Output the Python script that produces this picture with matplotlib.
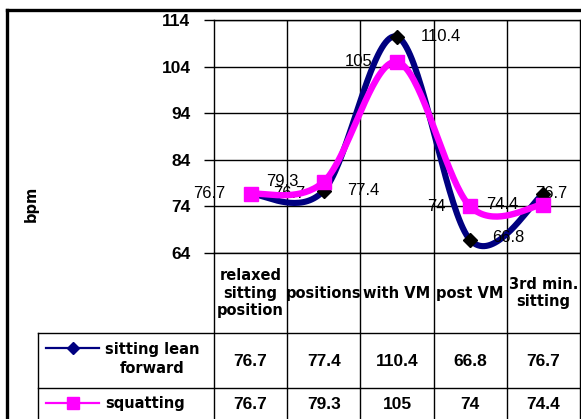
import numpy as np
import matplotlib
matplotlib.use("Agg")
import matplotlib.pyplot as plt

# data
categories = ["relaxed\nsitting\nposition", "positions", "with VM", "post VM", "3rd min.\nsitting"]
series_names = ["sitting lean\nforward", "squatting"]
lean_forward = [76.7, 77.4, 110.4, 66.8, 76.7]
squatting = [76.7, 79.3, 105, 74, 74.4]
yticks = [64, 74, 84, 94, 104, 114]

W, H = 581, 419
NAVY = "#000080"
MAGENTA = "#FF00FF"
LAB_FONT = "Liberation Sans"
CAT_FONT = "DejaVu Sans"


def smooth(y, n=40):
    # Excel-like smoothed line: Catmull-Rom as cubic Bezier segments
    x = np.arange(len(y)) + 0.5
    p = np.column_stack([x, np.asarray(y, float)])
    ext = np.vstack([p[0], p, p[-1]])
    out = []
    t = np.linspace(0, 1, n)[:, None]
    for i in range(len(p) - 1):
        p0, p1, p2, p3 = ext[i], ext[i + 1], ext[i + 2], ext[i + 3]
        c1 = p1 + (p2 - p0) / 6
        c2 = p2 - (p3 - p1) / 6
        seg = ((1 - t) ** 3) * p1 + 3 * ((1 - t) ** 2) * t * c1 + 3 * (1 - t) * t ** 2 * c2 + t ** 3 * p2
        out.append(seg if i == 0 else seg[1:])
    out = np.vstack(out)
    return out[:, 0], out[:, 1]


fig = plt.figure(figsize=(W / 100, H / 100), dpi=100)

# overlay in pixel coordinates for frame and data table
ov = fig.add_axes([0, 0, 1, 1])
ov.set_xlim(0, W)
ov.set_ylim(H, 0)
ov.axis("off")

left, right, top, bottom = 214, 580, 20, 253
ax = fig.add_axes([left / W, 1 - bottom / H, (right - left) / W, (bottom - top) / H])
ax.patch.set_alpha(0)
ncat = len(categories)
ax.set_xlim(0, ncat)
ax.set_ylim(yticks[0], yticks[-1])
ax.set_yticks(yticks)
ax.set_xticks([])
for yv in yticks:
    ax.axhline(yv, color="black", lw=1, zorder=1)
for i in range(1, ncat):
    ax.axvline(i, color="black", lw=1, zorder=1)
for s in ax.spines.values():
    s.set_color("black")
    s.set_linewidth(1)
ax.tick_params(axis="y", direction="out", length=7, width=1, pad=10, labelsize=12.5)
for lab in ax.get_yticklabels():
    lab.set_fontweight("bold")
    lab.set_fontfamily(LAB_FONT)

xc = np.arange(ncat) + 0.5
sx, sy = smooth(lean_forward)
ax.plot(sx, sy, color=NAVY, lw=4.4, zorder=3, solid_capstyle="round", clip_on=False)
ax.plot(xc, lean_forward, ls="none", marker="D", ms=7.5, color="black", zorder=4, clip_on=False)
sx, sy = smooth(squatting)
ax.plot(sx, sy, color=MAGENTA, lw=4.6, zorder=5, solid_capstyle="round", clip_on=False)
ax.plot(xc, squatting, ls="none", marker="s", ms=9.5, color=MAGENTA, zorder=6, clip_on=False)

# data labels: lean forward to the right (under the pink line), squatting to the left
lean_off = [(16, 0), (17, 0), (17, 0), (16, 2), (-6, 0)]
for i, v in enumerate(lean_forward):
    ax.annotate(f"{v:g}", (xc[i], v), xytext=lean_off[i], textcoords="offset points",
                ha="left", va="center", fontsize=12, family=LAB_FONT, zorder=4.5)
for i, v in enumerate(squatting):
    ax.annotate(f"{v:g}", (xc[i], v), xytext=(-18, 0), textcoords="offset points",
                ha="right", va="center", fontsize=12, family=LAB_FONT, zorder=7)

# outer frame
ov.plot([7, 7], [10, H], color="black", lw=2.4)
ov.plot([7, W], [10, 10], color="black", lw=2.4)

# data table grid
col_w = (right - left) / ncat
col_x = [left + i * col_w for i in range(ncat + 1)]
row_y = [bottom, 333, 388]
tab_left = 38
for x in col_x:
    ov.plot([x, x], [bottom, H], color="black", lw=1)
ov.plot([tab_left, tab_left], [row_y[1], H], color="black", lw=1)
for y in row_y[1:]:
    ov.plot([tab_left, right], [y, y], color="black", lw=1)

cat_y = (bottom + row_y[1]) / 2
for i, c in enumerate(categories):
    ov.text(left + (i + 0.5) * col_w, cat_y, c, ha="center", va="center",
            fontsize=10.5, fontweight="bold", family=CAT_FONT, linespacing=1.2)

rows = [lean_forward, squatting]
styles = [dict(color=NAVY, marker="D", ms=6), dict(color=MAGENTA, marker="s", ms=8)]
row_cy = [361, 404]
key_y = [348, 403]
name_x = [152, 145]
name_y = [359, 403]
for r, vals in enumerate(rows):
    for i, v in enumerate(vals):
        ov.text(left + (i + 0.5) * col_w, row_cy[r], f"{v:g}", ha="center", va="center",
                fontsize=12.5, fontweight="bold", family=LAB_FONT)
    ov.plot([46, 99], [key_y[r], key_y[r]], color=styles[r]["color"], lw=1.6)
    ov.plot([72.5], [key_y[r]], ls="none", **styles[r])
    ov.text(name_x[r], name_y[r], series_names[r], ha="center", va="center",
            fontsize=10.5, fontweight="bold", family=CAT_FONT, linespacing=1.3)

ax.text(-0.50, 0.21, "bpm", rotation=90, transform=ax.transAxes, ha="center", va="center",
        fontsize=10.5, fontweight="bold", family=CAT_FONT)

fig.savefig("out.png", dpi=100)
